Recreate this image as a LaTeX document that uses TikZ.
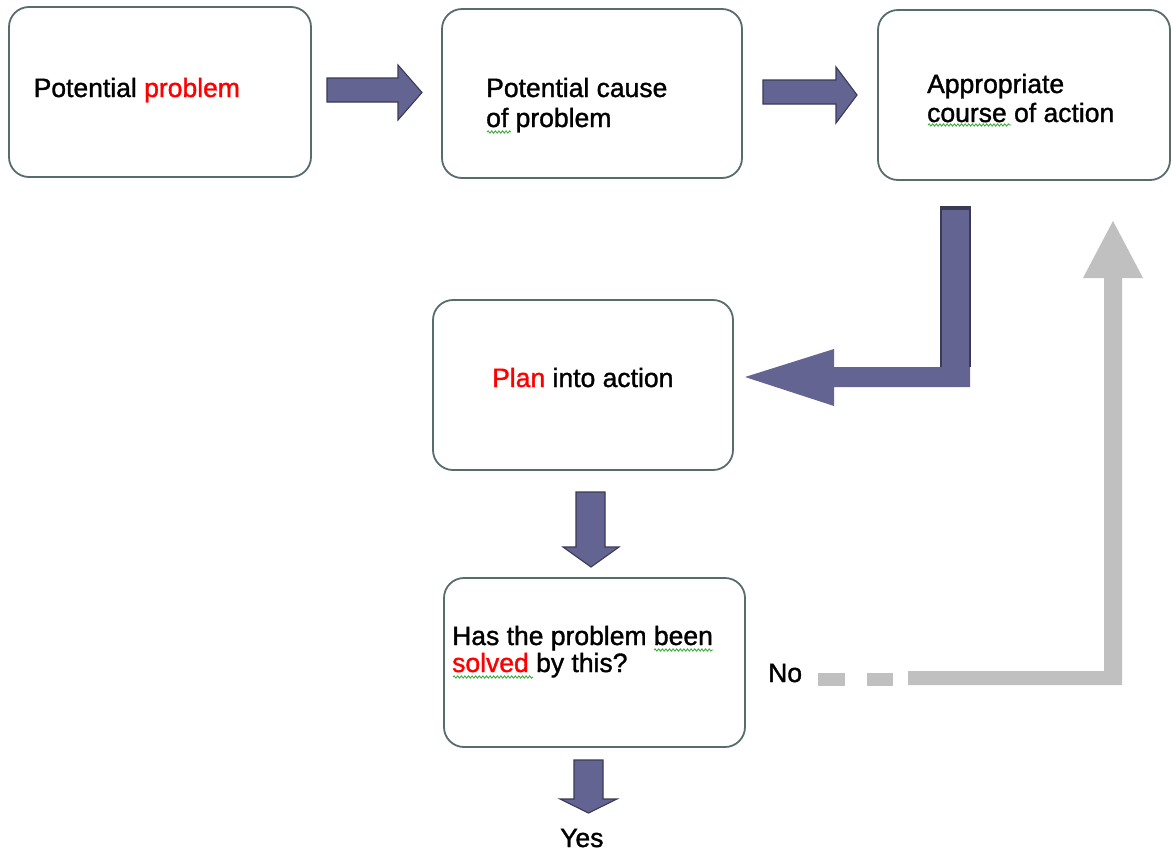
\documentclass[tikz,border=0pt]{standalone}
\usepackage{fontspec}
\setmainfont{Liberation Sans}[FakeBold=1.3]
\usetikzlibrary{decorations.pathmorphing}
\definecolor{boxline}{HTML}{586C6C}
\definecolor{arrfill}{HTML}{646493}
\definecolor{arrline}{HTML}{3A3A55}
\definecolor{greyarr}{HTML}{C0C0C0}
\definecolor{redtxt}{HTML}{FF0000}
\definecolor{squig}{HTML}{3DAF3D}
\begin{document}
\begin{tikzpicture}[x=1pt,y=-1pt,
  box/.style={draw=boxline, line width=1.8pt, rounded corners=20pt, fill=white, inner sep=0pt},
  lbl/.style={anchor=base west, inner sep=0pt, font=\fontsize{26.5}{30}\selectfont},
  blk/.style={fill=arrfill, draw=arrline, line width=1.1pt, line join=miter},
  grey/.style={fill=greyarr, draw=none},
  squiggle/.style={draw=squig, line width=0.9pt, decorate, decoration={snake, amplitude=1.1pt, segment length=3.6pt}}]
\useasboundingbox (0,0) rectangle (1171,852);
\fill[white] (0,0) rectangle (1171,852);

% boxes
\node[box, minimum width=302pt, minimum height=170pt] (b1) at (160,92) {};
\node[box, minimum width=300pt, minimum height=169pt] (b2) at (592,93.5) {};
\node[box, minimum width=292pt, minimum height=170pt] (b3) at (1024,95) {};
\node[box, minimum width=300pt, minimum height=170pt] (b4) at (583,385) {};
\node[box, minimum width=301pt, minimum height=169pt] (b5) at (594.5,662.5) {};

% texts
\node[lbl] (t1) at (33.5,97) {Potential \textcolor{redtxt}{problem}};
\node[lbl] (t2a) at (486,97) {Potential cause};
\node[lbl] (t2b) at (486,127) {of problem};
\node[lbl] (t3a) at (927,93) {Appropriate};
\node[lbl] (t3b) at (927,122) {course of action};
\node[lbl] (t4) at (492,387) {\textcolor{redtxt}{Plan} into action};
\node[lbl] (t5a) at (452,645) {Has the problem been};
\node[lbl] (t5b) at (452,672) {\textcolor{redtxt}{solved} by this?};
\node[lbl] (no) at (768,682) {No};
\node[lbl] (yes) at (560,847) {Yes};

% spell-check squiggles
\draw[squiggle] (487,132) -- (511,132);
\draw[squiggle] (928,125) -- (1011,125);
\draw[squiggle] (654,650) -- (713,650);
\draw[squiggle] (453,677) -- (533,677);

% block arrows
\draw[blk] (327,78) -- (398,78) -- (398,65) -- (422,92.5) -- (398,120) -- (398,102) -- (327,102) -- cycle;
\draw[blk] (763,80) -- (836,80) -- (836,67) -- (857,95) -- (836,123) -- (836,104) -- (763,104) -- cycle;
\draw[blk] (576,492) -- (605,492) -- (605,547) -- (619,547) -- (591,567) -- (563,547) -- (576,547) -- cycle;
\draw[blk] (574,760) -- (603,760) -- (603,799) -- (617,799) -- (588.5,813) -- (560,799) -- (574,799) -- cycle;

% L-shaped arrow
\fill[arrfill] (941,207) -- (970,207) -- (970,387) -- (834,387) -- (834,406) -- (745,377) -- (834,349) -- (834,367) -- (941,367) -- cycle;
\draw[arrline, line width=1.1pt] (941,367) -- (941,207) -- (970,207) -- (970,367);
\draw[arrline, line width=2.5pt] (941.5,208.5) -- (969.5,208.5);

% grey "No" arrow
\fill[grey] (818,673) rectangle (845,686);
\fill[grey] (867,673) rectangle (893,686);
\fill[grey] (908,671) -- (1104,671) -- (1104,278) -- (1083,278) -- (1113,221) -- (1143,278) -- (1122,278) -- (1122,685) -- (908,685) -- cycle;
\end{tikzpicture}
\end{document}
